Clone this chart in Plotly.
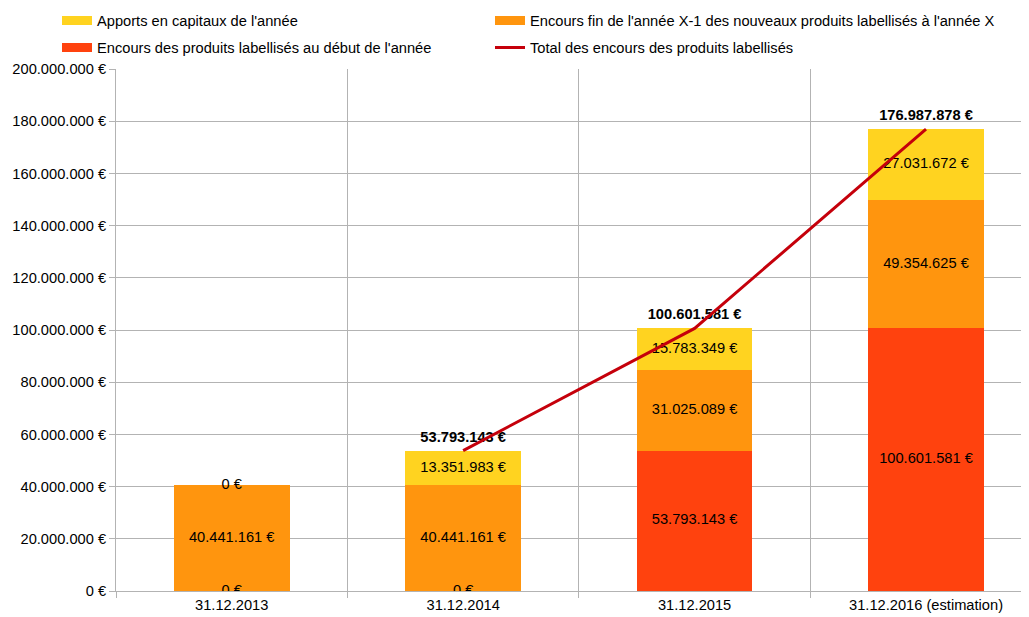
import plotly.graph_objects as go

FONT = "Liberation Sans, Arial, sans-serif"
FS = 14.67
W, H = 1021, 609  # la page ajoute 8 px de marge autour du graphique

dates = ["31.12.2013", "31.12.2014", "31.12.2015", "31.12.2016 (estimation)"]
encours_debut = [0, 0, 53793143, 100601581]
encours_fin_x1 = [40441161, 40441161, 31025089, 49354625]
apports = [0, 13351983, 15783349, 27031672]
totaux = [None, 53793143, 100601581, 176987878]

noms = {
    "apports": "Apports en capitaux de l'année",
    "fin": "Encours fin de l'année X-1 des nouveaux produits labellisés à l'année X",
    "debut": "Encours des produits labellisés au début de l'année",
    "total": "Total des encours des produits labellisés",
}
couleurs = {"apports": "#FFD320", "fin": "#FF950E", "debut": "#FF420E", "total": "#C5000B"}


def euro(v):
    return f"{v:,}".replace(",", ".") + " €"


fig = go.Figure()

# barres empilées (du bas vers le haut)
series = [("debut", encours_debut), ("fin", encours_fin_x1), ("apports", apports)]
for key, vals in series:
    fig.add_trace(go.Bar(x=dates, y=vals, marker_color=couleurs[key], marker_line_width=0,
                         name=noms[key], showlegend=False, hoverinfo="skip"))

# étiquettes au milieu de chaque segment
lx, ly, lt = [], [], []
base = [0] * len(dates)
for key, vals in series:
    for i, v in enumerate(vals):
        lx.append(dates[i])
        ly.append(base[i] + v / 2)
        lt.append(euro(v))
        base[i] += v
fig.add_trace(go.Scatter(x=lx, y=ly, text=lt, mode="text", showlegend=False,
                         textfont=dict(family=FONT, size=FS, color="#000000"), hoverinfo="skip"))

# totaux en gras
fig.add_trace(go.Scatter(x=dates, y=totaux, text=["" if t is None else f"<b>{euro(t)}</b>" for t in totaux],
                         mode="markers+text", marker=dict(size=7, opacity=0), textposition="top center",
                         showlegend=False, textfont=dict(family=FONT, size=FS, color="#000000"),
                         hoverinfo="skip"))

fig.add_trace(go.Scatter(x=dates, y=totaux, mode="lines", line=dict(color=couleurs["total"], width=3),
                         showlegend=False, connectgaps=False))

# entrées de légende : une légende par entrée, placée sur deux colonnes
legendes = [("apports", "legend", 9, 49, 13), ("fin", "legend2", 9, 482, 13),
            ("debut", "legend3", 9, 49, 40), ("total", "legend4", 3, 482, 40)]
leg_layout = {}
for key, leg, w, lx_px, ly_px in legendes:
    fig.add_trace(go.Scatter(x=[None], y=[None], mode="lines", name=noms[key], legend=leg,
                             line=dict(color=couleurs[key], width=w)))
    leg_layout[leg] = dict(orientation="h", xref="container", yref="container", xanchor="left",
                           yanchor="middle", x=lx_px / W, y=1 - ly_px / H, bgcolor="rgba(0,0,0,0)",
                           font=dict(family=FONT, size=FS, color="#000000"))

fig.update_layout(
    width=W, height=H,
    plot_bgcolor="white", paper_bgcolor="white",
    barmode="stack", bargap=0.5,
    separators=",.",
    margin=dict(l=108, r=0, t=61, b=26),
    font=dict(family=FONT, size=FS, color="#000000"),
    **leg_layout,
)
fig.update_xaxes(type="category", range=[-0.5, 3.445], tickson="boundaries", ticks="outside", ticklen=6,
                 tickcolor="#b3b3b3", showgrid=True, gridcolor="#b3b3b3", gridwidth=1,
                 showline=True, linecolor="#b3b3b3", automargin=False,
                 tickfont=dict(family=FONT, size=FS, color="#000000"))
fig.update_yaxes(range=[0, 200000000], dtick=20000000, tickformat=",d", ticksuffix=" €",
                 ticks="outside", ticklen=6, tickcolor="#b3b3b3", showgrid=True, gridcolor="#b3b3b3",
                 showline=True, linecolor="#b3b3b3", zeroline=False, automargin=False,
                 tickfont=dict(family=FONT, size=FS, color="#000000"))

fig.write_html("out.html")
